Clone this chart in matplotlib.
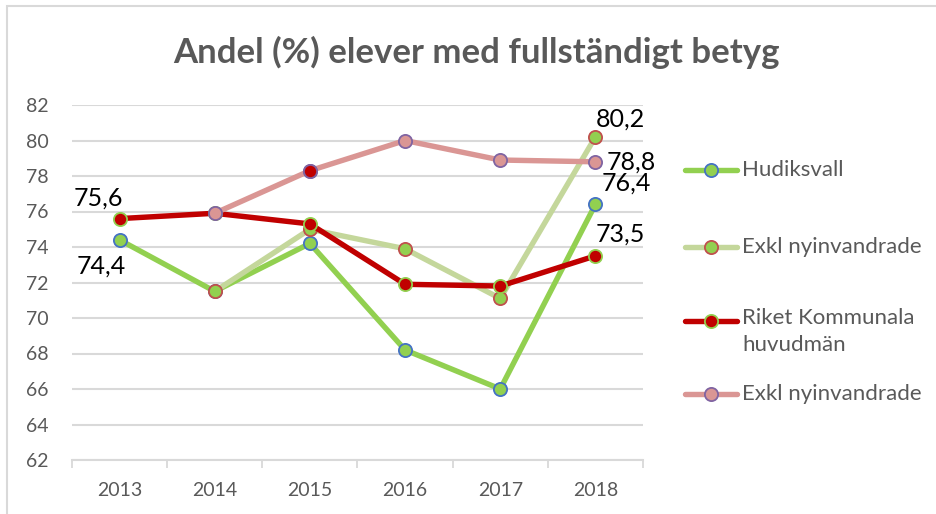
import numpy as np
import matplotlib
matplotlib.use("Agg")
import matplotlib.pyplot as plt
from matplotlib.lines import Line2D
from matplotlib.patches import Rectangle

plt.rcParams['font.family'] = ['Lato', 'DejaVu Sans']

years = ["2013", "2014", "2015", "2016", "2017", "2018"]
hudiksvall = [74.4, 71.5, 74.2, 68.2, 66.0, 76.4]
hud_exkl = [np.nan, 71.5, 75.0, 73.9, 71.1, 80.2]
riket = [75.6, 75.9, 75.3, 71.9, 71.8, 73.5]
riket_exkl = [np.nan, 75.9, 78.3, 80.0, 78.9, 78.8]
labels = ["Hudiksvall", "Exkl nyinvandrade", "Riket Kommunala\nhuvudmän", "Exkl nyinvandrade"]
title = "Andel (%) elever med fullständigt betyg"

W, H = 936, 514
fig = plt.figure(figsize=(W / 100, H / 100), dpi=100)

# chart frame (cropped)
fig.add_artist(Rectangle((7 / W, -0.1), 1.2, 1 - 6 / H + 0.1, transform=fig.transFigure,
                         fill=False, edgecolor="#D9D9D9", linewidth=1.5))

ax = fig.add_axes([72 / W, 1 - 460 / H, (643 - 72) / W, (460 - 105) / H])
x = np.arange(len(years))

styles = [
    (hudiksvall, "#92D050", "#92D050", "#4472C4"),
    (hud_exkl, "#C4D79B", "#92D050", "#C0504D"),
    (riket, "#C00000", "#C00000", "#92D050"),
    (riket_exkl, "#DA9694", "#DA9694", "#8064A2"),
]
for data, lc, mf, me in styles:
    ax.plot(x, data, color=lc, linewidth=3.9, marker="o", markersize=9.5,
            markerfacecolor=mf, markeredgecolor=me, markeredgewidth=1.3,
            solid_capstyle="round", zorder=3)
# 2015 point of the last series has a red fill in the original
ax.plot(x[2], riket_exkl[2], marker="o", markersize=9.5, markerfacecolor="#C00000",
        markeredgecolor="#8064A2", markeredgewidth=1.3, zorder=4)

ax.set_ylim(62, 82)
ax.set_xlim(-0.5, len(years) - 0.5)
ax.set_yticks(np.arange(62, 83, 2))
ax.set_xticks(x)
ax.set_xticklabels(years)
ax.set_xticks(np.arange(-0.5, len(years), 1), minor=True)
ax.tick_params(axis="x", which="major", length=0, pad=16, labelsize=14, labelcolor="#595959")
ax.tick_params(axis="x", which="minor", length=6, width=1.3, color="#D9D9D9")
ax.tick_params(axis="y", length=0, pad=33, labelsize=14, labelcolor="#595959")
for lab in ax.get_yticklabels():
    lab.set_horizontalalignment("left")
ax.grid(axis="y", color="#D9D9D9", linewidth=1.5, zorder=0)
ax.set_axisbelow(True)
for s in ["top", "right", "left"]:
    ax.spines[s].set_visible(False)
ax.spines["bottom"].set_color("#D9D9D9")
ax.spines["bottom"].set_linewidth(1.5)

# data labels
lab_fs = 18
def lbl(text, xi, yv, dx, dy):
    ax.annotate(text, (xi, yv), xytext=(dx, dy), textcoords="offset points",
                ha="center", va="center", fontsize=lab_fs, color="black")
lbl("75,6", 0, riket[0], -15, 15)
lbl("74,4", 0, hudiksvall[0], -13, -19)
lbl("80,2", 5, hud_exkl[5], 18, 13)
lbl("78,8", 5, riket_exkl[5], 26, 0)
lbl("76,4", 5, hudiksvall[5], 22, 15)
lbl("73,5", 5, riket[5], 18, 16)

fig.text(476 / W, 1 - 52 / H, title, ha="center", va="center", fontsize=25,
         fontweight="bold", color="#595959")

# legend (manual)
leg_y = [170, 247, 321, 394]
for (data, lc, mf, me), lab, yy in zip(styles, labels, leg_y):
    yf = 1 - yy / H
    fig.add_artist(Line2D([685 / W, 737 / W], [yf, yf], transform=fig.transFigure,
                          color=lc, linewidth=3.9, solid_capstyle="round"))
    fig.add_artist(Line2D([711 / W], [yf], transform=fig.transFigure, marker="o",
                          markersize=9.5, markerfacecolor=mf, markeredgecolor=me,
                          markeredgewidth=1.3))
    if "\n" in lab:
        fig.text(742 / W, 1 - (yy - 13) / H, lab, ha="left", va="top",
                 fontsize=16, color="#595959", linespacing=1.45)
    else:
        fig.text(742 / W, yf, lab, ha="left", va="center",
                 fontsize=16, color="#595959")

fig.savefig("out.png", dpi=100)
